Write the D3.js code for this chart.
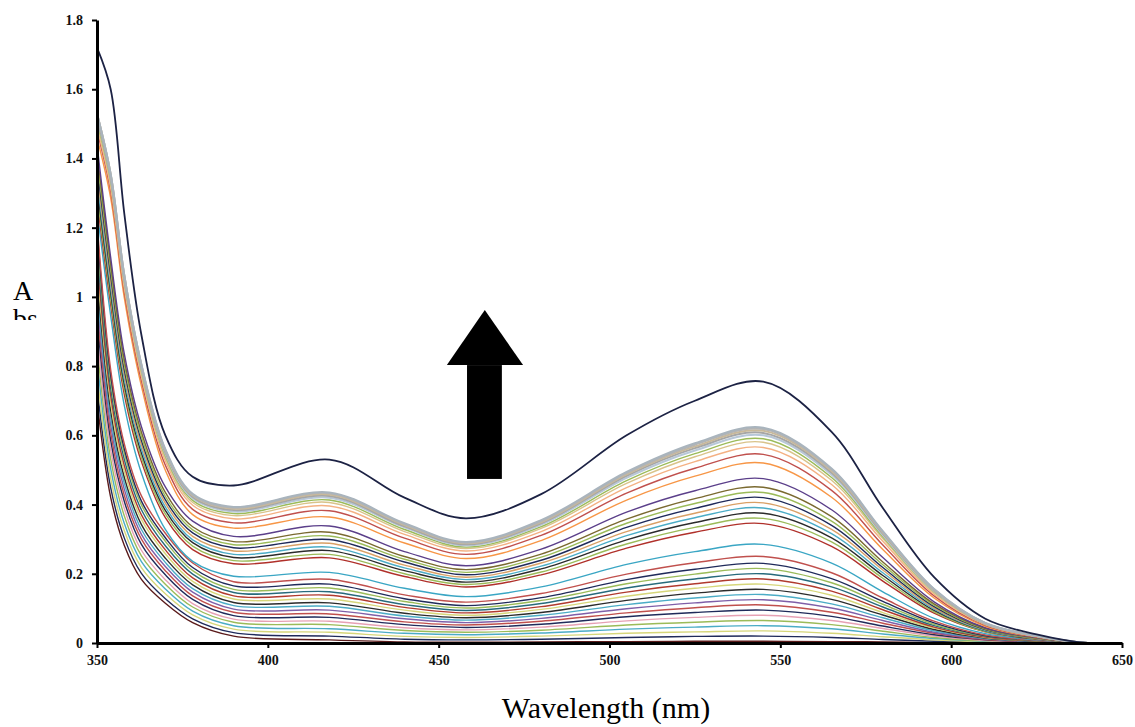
<!DOCTYPE html>
<html>
<head>
<meta charset="utf-8">
<script src="https://cdn.jsdelivr.net/npm/d3@7"></script>
<style>
  html, body { margin: 0; padding: 0; background: #fff; }
  svg { display: block; }
</style>
</head>
<body>
<div id="chart"></div>
<script>
const wavelengths = [350, 354, 358, 363, 370, 378, 390, 418, 440, 458, 480, 505, 525, 545, 565, 580, 595, 610, 625, 640, 650];

// titration spectra, lowest to highest (absorbance)
const spectra = [
  [0.700, 0.421, 0.282, 0.184, 0.115, 0.059, 0.020, 0.009, 0.003, 0.002, 0.003, 0.004, 0.005, 0.005, 0.004, 0.003, 0.001, 0, 0, 0, 0],
  [0.740, 0.449, 0.303, 0.201, 0.128, 0.070, 0.030, 0.020, 0.011, 0.009, 0.011, 0.016, 0.019, 0.020, 0.016, 0.010, 0.005, 0.002, 0.001, 0, 0],
  [0.780, 0.476, 0.324, 0.218, 0.142, 0.081, 0.040, 0.031, 0.019, 0.016, 0.020, 0.028, 0.032, 0.035, 0.028, 0.018, 0.009, 0.003, 0.001, 0, 0],
  [0.820, 0.504, 0.345, 0.235, 0.156, 0.092, 0.050, 0.041, 0.028, 0.024, 0.029, 0.040, 0.046, 0.050, 0.041, 0.026, 0.013, 0.005, 0.002, 0, 0],
  [0.860, 0.531, 0.367, 0.252, 0.170, 0.104, 0.060, 0.053, 0.036, 0.031, 0.037, 0.052, 0.060, 0.065, 0.053, 0.034, 0.016, 0.006, 0.002, 0, 0],
  [0.900, 0.558, 0.388, 0.268, 0.183, 0.114, 0.069, 0.063, 0.044, 0.038, 0.046, 0.064, 0.074, 0.080, 0.065, 0.042, 0.020, 0.007, 0.003, 0, 0],
  [0.940, 0.586, 0.409, 0.285, 0.197, 0.126, 0.079, 0.074, 0.053, 0.045, 0.054, 0.076, 0.088, 0.095, 0.077, 0.049, 0.024, 0.009, 0.003, 0, 0],
  [0.970, 0.608, 0.426, 0.300, 0.209, 0.136, 0.089, 0.084, 0.061, 0.052, 0.063, 0.087, 0.102, 0.110, 0.089, 0.057, 0.028, 0.010, 0.004, 0, 0],
  [1.000, 0.630, 0.444, 0.314, 0.221, 0.147, 0.098, 0.095, 0.070, 0.059, 0.071, 0.099, 0.116, 0.125, 0.101, 0.065, 0.031, 0.012, 0.004, 0, 0],
  [1.030, 0.650, 0.461, 0.328, 0.233, 0.157, 0.108, 0.106, 0.078, 0.066, 0.080, 0.111, 0.130, 0.140, 0.113, 0.073, 0.035, 0.013, 0.005, 0, 0],
  [1.060, 0.672, 0.478, 0.342, 0.245, 0.168, 0.117, 0.116, 0.086, 0.073, 0.088, 0.123, 0.144, 0.155, 0.126, 0.081, 0.039, 0.014, 0.005, 0, 0],
  [1.090, 0.694, 0.495, 0.357, 0.258, 0.178, 0.127, 0.127, 0.095, 0.080, 0.097, 0.135, 0.158, 0.170, 0.138, 0.088, 0.043, 0.016, 0.006, 0, 0],
  [1.120, 0.715, 0.512, 0.370, 0.269, 0.188, 0.136, 0.138, 0.103, 0.087, 0.105, 0.147, 0.171, 0.185, 0.150, 0.096, 0.046, 0.017, 0.006, 0, 0],
  [1.150, 0.736, 0.530, 0.385, 0.281, 0.199, 0.146, 0.148, 0.111, 0.094, 0.114, 0.159, 0.185, 0.200, 0.162, 0.104, 0.050, 0.019, 0.007, 0, 0],
  [1.180, 0.758, 0.547, 0.399, 0.294, 0.209, 0.155, 0.159, 0.120, 0.101, 0.123, 0.171, 0.199, 0.215, 0.174, 0.112, 0.054, 0.020, 0.007, 0, 0],
  [1.200, 0.773, 0.560, 0.410, 0.304, 0.218, 0.165, 0.170, 0.128, 0.108, 0.131, 0.183, 0.213, 0.230, 0.186, 0.120, 0.058, 0.021, 0.008, 0, 0],
  [1.220, 0.790, 0.575, 0.425, 0.317, 0.231, 0.177, 0.184, 0.139, 0.118, 0.143, 0.199, 0.232, 0.250, 0.203, 0.130, 0.063, 0.023, 0.008, 0, 0],
  [1.250, 0.946, 0.686, 0.491, 0.328, 0.236, 0.193, 0.204, 0.158, 0.134, 0.162, 0.227, 0.264, 0.285, 0.231, 0.148, 0.071, 0.027, 0.009, 0, 0],
  [1.280, 0.978, 0.718, 0.524, 0.362, 0.270, 0.229, 0.246, 0.192, 0.162, 0.197, 0.274, 0.320, 0.345, 0.279, 0.179, 0.086, 0.032, 0.011, 0, 0],
  [1.300, 0.995, 0.733, 0.536, 0.373, 0.280, 0.238, 0.256, 0.200, 0.169, 0.205, 0.286, 0.334, 0.360, 0.292, 0.187, 0.090, 0.033, 0.012, 0, 0],
  [1.320, 1.012, 0.747, 0.549, 0.383, 0.290, 0.247, 0.267, 0.209, 0.176, 0.214, 0.298, 0.348, 0.375, 0.304, 0.195, 0.094, 0.035, 0.012, 0, 0],
  [1.340, 1.028, 0.761, 0.560, 0.393, 0.298, 0.256, 0.277, 0.217, 0.183, 0.222, 0.310, 0.362, 0.390, 0.316, 0.203, 0.098, 0.036, 0.013, 0, 0],
  [1.360, 1.045, 0.775, 0.573, 0.404, 0.308, 0.266, 0.288, 0.225, 0.190, 0.231, 0.322, 0.375, 0.405, 0.328, 0.211, 0.101, 0.038, 0.013, 0, 0],
  [1.380, 1.062, 0.789, 0.585, 0.414, 0.318, 0.275, 0.299, 0.234, 0.197, 0.239, 0.334, 0.389, 0.420, 0.340, 0.218, 0.105, 0.039, 0.014, 0, 0],
  [1.400, 1.079, 0.803, 0.596, 0.424, 0.327, 0.284, 0.309, 0.242, 0.204, 0.248, 0.346, 0.403, 0.435, 0.352, 0.226, 0.109, 0.040, 0.014, 0, 0],
  [1.420, 1.095, 0.817, 0.609, 0.435, 0.336, 0.293, 0.320, 0.250, 0.212, 0.257, 0.358, 0.417, 0.450, 0.365, 0.234, 0.113, 0.042, 0.015, 0, 0],
  [1.440, 1.114, 0.835, 0.625, 0.451, 0.352, 0.308, 0.338, 0.264, 0.223, 0.271, 0.378, 0.440, 0.475, 0.385, 0.247, 0.119, 0.044, 0.016, 0, 0],
  [1.460, 1.286, 0.997, 0.742, 0.499, 0.371, 0.332, 0.364, 0.289, 0.244, 0.296, 0.413, 0.482, 0.520, 0.421, 0.270, 0.130, 0.048, 0.017, 0, 0],
  [1.480, 1.305, 1.014, 0.758, 0.514, 0.386, 0.347, 0.382, 0.303, 0.256, 0.311, 0.433, 0.505, 0.545, 0.441, 0.283, 0.136, 0.051, 0.018, 0, 0],
  [1.490, 1.316, 1.025, 0.770, 0.526, 0.398, 0.359, 0.396, 0.314, 0.266, 0.322, 0.449, 0.524, 0.565, 0.458, 0.294, 0.141, 0.053, 0.019, 0, 0],
  [1.500, 1.325, 1.034, 0.778, 0.534, 0.406, 0.368, 0.406, 0.322, 0.273, 0.331, 0.461, 0.538, 0.580, 0.470, 0.302, 0.145, 0.054, 0.019, 0, 0],
  [1.510, 1.335, 1.043, 0.786, 0.541, 0.412, 0.374, 0.413, 0.328, 0.277, 0.336, 0.469, 0.547, 0.590, 0.478, 0.307, 0.148, 0.055, 0.019, 0, 0],
  [1.520, 1.344, 1.051, 0.793, 0.547, 0.418, 0.380, 0.420, 0.334, 0.282, 0.342, 0.477, 0.556, 0.600, 0.486, 0.312, 0.150, 0.056, 0.020, 0, 0],
  [1.520, 1.345, 1.053, 0.796, 0.551, 0.422, 0.384, 0.425, 0.337, 0.285, 0.346, 0.483, 0.563, 0.607, 0.492, 0.316, 0.152, 0.056, 0.020, 0, 0],
  [1.530, 1.354, 1.061, 0.802, 0.556, 0.426, 0.388, 0.429, 0.341, 0.288, 0.349, 0.487, 0.568, 0.613, 0.497, 0.319, 0.153, 0.057, 0.020, 0, 0],
  [1.530, 1.354, 1.061, 0.803, 0.557, 0.428, 0.391, 0.433, 0.344, 0.290, 0.352, 0.491, 0.573, 0.618, 0.501, 0.321, 0.155, 0.057, 0.020, 0, 0],
  [1.530, 1.355, 1.062, 0.805, 0.560, 0.431, 0.393, 0.435, 0.346, 0.292, 0.355, 0.494, 0.577, 0.622, 0.504, 0.323, 0.156, 0.058, 0.021, 0, 0]
];

// the final (uppermost) spectrum
const finalSpectrum = [1.72, 1.60, 1.24, 0.89, 0.60, 0.48, 0.455, 0.53, 0.42, 0.36, 0.43, 0.60, 0.70, 0.755, 0.61, 0.39, 0.19, 0.07, 0.025, 0, 0];

const lineColors = [
  '#5a1a1a', '#1f2a5a', '#d6d67a', '#4bacc6', '#9bbb59', '#e6a1b4', '#1f2a5a', '#c0504d',
  '#7f5fa8', '#4bacc6', '#2b2b2b', '#d6d67a', '#b03a2e', '#276a7c', '#9bbb59', '#1f2a5a',
  '#c0504d', '#3aa6c4', '#b0302a', '#9bbb59', '#2b2b2b', '#4bacc6', '#d9a066', '#1f2a5a',
  '#9bbb59', '#7a6a30', '#5b3f8a', '#f79646', '#c0504d', '#f4b183', '#d9c38a', '#9bbb59',
  '#b7c7d8', '#a6a6a6', '#c9b99a', '#b4b4b4', '#a9b4bd'
];
const finalColor = '#1c2244';

const xTicks = [350, 400, 450, 500, 550, 600, 650];
const yTicks = [0, 0.2, 0.4, 0.6, 0.8, 1, 1.2, 1.4, 1.6, 1.8];

// arrow annotation, in data units (nm, absorbance)
const arrowHead = [[452.4, 0.803], [463.5, 0.962], [474.7, 0.803]];
const arrowShaft = { x0: 458.3, x1: 468.5, top: 0.803, bottom: 0.474 };

const width = 1135, height = 727;

const svg = d3.select('#chart').append('svg')
  .attr('width', width)
  .attr('height', height);

const x = d3.scaleLinear().domain([350, 650]).range([97, 1122]);
const y = d3.scaleLinear().domain([0, 1.8]).range([643, 20]);

svg.append('clipPath').attr('id', 'plot-clip')
  .append('rect')
  .attr('x', x(350)).attr('y', 0)
  .attr('width', x(650) - x(350)).attr('height', y(0));

const line = d3.line()
  .x((d, i) => x(wavelengths[i]))
  .y(d => y(d))
  .curve(d3.curveCatmullRom.alpha(0.5));

// spectra
const g = svg.append('g').attr('clip-path', 'url(#plot-clip)');
spectra.forEach((s, i) => {
  g.append('path')
    .attr('d', line(s))
    .attr('fill', 'none')
    .attr('stroke', lineColors[i])
    .attr('stroke-width', i > 31 ? 2 : 1.4);
});
g.append('path')
  .attr('d', line(finalSpectrum))
  .attr('fill', 'none')
  .attr('stroke', finalColor)
  .attr('stroke-width', 1.8);

// Y axis
const yAxis = svg.append('g')
  .attr('transform', `translate(${x(350)},0)`)
  .call(d3.axisLeft(y).tickValues(yTicks).tickSize(5).tickSizeOuter(0).tickFormat(d3.format('~g')));
yAxis.select('.domain').attr('stroke', '#000').attr('stroke-width', 3);
yAxis.selectAll('.tick line').attr('stroke-width', 2);
yAxis.selectAll('.tick text')
  .attr('x', -14)
  .attr('font-family', '"Liberation Serif", "Times New Roman", serif')
  .attr('font-weight', 'bold')
  .attr('font-size', '14px')
  .attr('fill', '#111');

// X axis
const xAxis = svg.append('g')
  .attr('transform', `translate(0,${y(0)})`)
  .call(d3.axisBottom(x).tickValues(xTicks).tickSize(5).tickSizeOuter(0));
xAxis.select('.domain').attr('stroke', '#000').attr('stroke-width', 3);
xAxis.selectAll('.tick line').attr('stroke-width', 2);
xAxis.selectAll('.tick text')
  .attr('y', 12)
  .attr('font-family', '"Liberation Serif", "Times New Roman", serif')
  .attr('font-weight', 'bold')
  .attr('font-size', '14px')
  .attr('fill', '#111');

// axis titles
svg.append('text')
  .attr('x', 606)
  .attr('y', 718)
  .attr('text-anchor', 'middle')
  .attr('font-family', '"Liberation Serif", "Times New Roman", serif')
  .attr('font-size', '30px')
  .text('Wavelength (nm)');

svg.append('clipPath').attr('id', 'abs-clip')
  .append('rect').attr('x', 0).attr('y', 250).attr('width', 60).attr('height', 70);
const absLabel = svg.append('text')
  .attr('clip-path', 'url(#abs-clip)')
  .attr('font-family', '"Liberation Serif", "Times New Roman", serif')
  .attr('font-size', '28px');
absLabel.append('tspan').attr('x', 13).attr('y', 300).text('A');
absLabel.append('tspan').attr('x', 13).attr('y', 328).text('bs');

// arrow
svg.append('rect')
  .attr('x', x(arrowShaft.x0))
  .attr('y', y(arrowShaft.top))
  .attr('width', x(arrowShaft.x1) - x(arrowShaft.x0))
  .attr('height', y(arrowShaft.bottom) - y(arrowShaft.top))
  .attr('fill', '#000');
svg.append('path')
  .attr('d', d3.line().x(d => x(d[0])).y(d => y(d[1]))(arrowHead) + 'Z')
  .attr('fill', '#000');
</script>
</body>
</html>
